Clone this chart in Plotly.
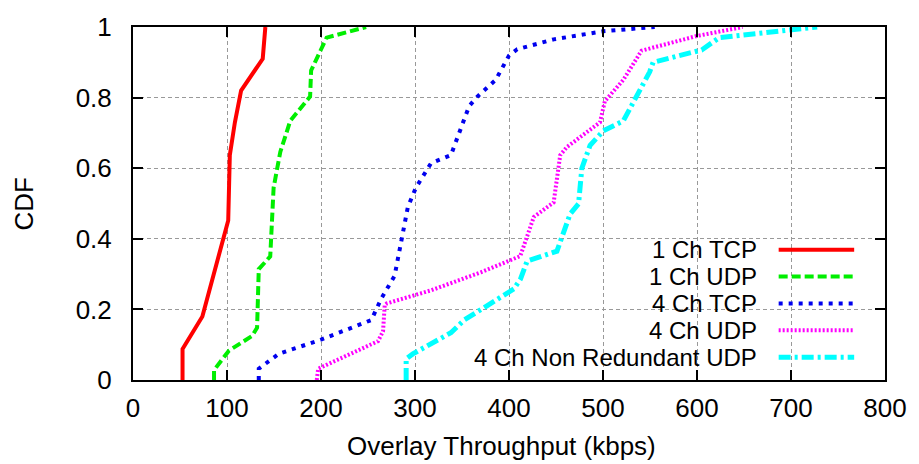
import plotly.graph_objects as go

# Data (throughput in kbps, CDF values)
red_x = [52.7, 52.7, 73.8, 101.3, 103, 108.4, 115, 138, 140.8]
red_y = [0, 0.088, 0.18, 0.452, 0.637, 0.73, 0.82, 0.91, 1.0]

green_x = [86.2, 86.2, 102, 126.7, 132, 133.8, 146, 149.6, 156.7, 167.3, 188.4, 189.5, 206, 248]
green_y = [0, 0.028, 0.083, 0.125, 0.148, 0.314, 0.35, 0.545, 0.646, 0.734, 0.803, 0.877, 0.97, 1.0]

blue_x = [133.8, 133.8, 155, 200.7, 253.6, 264, 278.3, 285.3, 292.4, 301, 317, 338.2, 347,
          357.6, 366.4, 385.8, 400, 408.7, 447.5, 500.4, 555]
blue_y = [0, 0.032, 0.074, 0.115, 0.17, 0.23, 0.295, 0.397, 0.49, 0.545, 0.614, 0.637, 0.70,
          0.776, 0.803, 0.85, 0.919, 0.937, 0.965, 0.988, 1.0]

magenta_x = [195.5, 197, 260.7, 266, 267.8, 270, 317, 370, 412, 415.8, 426.4, 447.5, 454.5,
             461.6, 496.8, 502, 521.6, 541, 599, 648.5]
magenta_y = [0, 0.032, 0.11, 0.138, 0.212, 0.217, 0.254, 0.305, 0.351, 0.379, 0.462, 0.503, 0.637,
             0.66, 0.73, 0.79, 0.85, 0.933, 0.974, 1.0]

cyan_x = [290.6, 290.6, 297.7, 338.2, 352.4, 405.2, 412.2, 419.3, 451, 465, 474, 477.5, 486.3,
          500.4, 521.6, 549.7, 553.3, 605, 623.7, 701.4, 727.8]
cyan_y = [0, 0.06, 0.074, 0.134, 0.17, 0.258, 0.286, 0.337, 0.365, 0.47, 0.499, 0.60, 0.665,
          0.706, 0.734, 0.873, 0.9, 0.935, 0.97, 0.993, 1.0]

series_names = ["1 Ch TCP", "1 Ch UDP", "4 Ch TCP", "4 Ch UDP", "4 Ch Non Redundant UDP"]
x_ticks = [0, 100, 200, 300, 400, 500, 600, 700, 800]
y_ticks = [0, 0.2, 0.4, 0.6, 0.8, 1]

styles = [
    dict(color="#ff0000", width=4, dash="solid"),
    dict(color="#00ee00", width=4, dash="9px,4px"),
    dict(color="#0000ee", width=4, dash="4px,6px"),
    dict(color="#ff00ff", width=4, dash="2px,2px"),
    dict(color="#00ffff", width=5, dash="12px,4px,3px,4px"),
]

FONT = "Liberation Sans, Arial, Helvetica, sans-serif"

fig = go.Figure()
for name, xs, ys, st in zip(series_names,
                            [red_x, green_x, blue_x, magenta_x, cyan_x],
                            [red_y, green_y, blue_y, magenta_y, cyan_y],
                            styles):
    fig.add_trace(go.Scatter(x=xs, y=ys, mode="lines", name=name, line=st,
                             showlegend=False, hoverinfo="skip"))

shapes = []
# opaque key box (covers grid, lies under the curves)
shapes.append(dict(type="rect", xref="paper", yref="paper", x0=0.3695, x1=1, y0=0, y1=0.396,
                   fillcolor="white", line=dict(width=0), layer="between"))
annotations = []
row_y = [0.3693, 0.2931, 0.2169, 0.1407, 0.0645]
for name, st, yy in zip(series_names, styles, row_y):
    shapes.append(dict(type="line", xref="paper", yref="paper", x0=0.8586, x1=0.959, y0=yy, y1=yy,
                       line=dict(color=st["color"], width=st["width"], dash=st["dash"]), layer="above"))
    annotations.append(dict(text=name, xref="paper", yref="paper", x=0.832, y=yy,
                            xanchor="right", yanchor="middle", showarrow=False,
                            font=dict(family=FONT, size=24, color="black")))

annotations.append(dict(text="CDF", xref="paper", yref="paper", x=-0.145, y=0.5, textangle=-90,
                        xanchor="center", yanchor="middle", showarrow=False,
                        font=dict(family=FONT, size=26, color="black")))
annotations.append(dict(text="Overlay Throughput (kbps)", xref="paper", yref="paper", x=0.49, y=-0.188,
                        xanchor="center", yanchor="middle", showarrow=False,
                        font=dict(family=FONT, size=26, color="black")))

axis_common = dict(showline=True, linecolor="black", linewidth=2, mirror="allticks",
                   ticks="inside", ticklen=10, tickwidth=1.5, tickcolor="black",
                   showgrid=True, gridcolor="#999999", gridwidth=1, griddash="4px,3px",
                   zeroline=False, tickfont=dict(family=FONT, size=26, color="black"))

fig.update_layout(
    width=919, height=464,
    margin=dict(l=133, r=29, t=19, b=84, pad=0),
    plot_bgcolor="white", paper_bgcolor="white",
    xaxis=dict(range=[0, 800], tickmode="array", tickvals=x_ticks, ticklabelstandoff=4, **axis_common),
    yaxis=dict(range=[0, 1], tickmode="array", tickvals=y_ticks, ticklabelstandoff=14, **axis_common),
    shapes=shapes, annotations=annotations,
)

fig.write_html("out.html")
